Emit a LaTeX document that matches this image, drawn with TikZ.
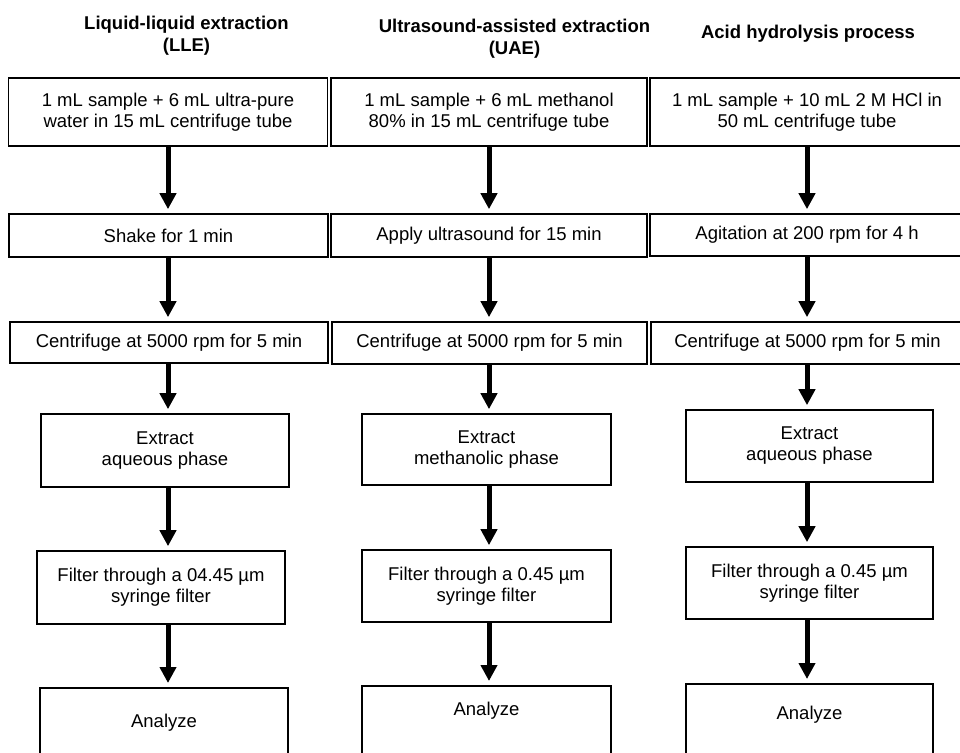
\documentclass[tikz,border=0pt]{standalone}
\usepackage{fontspec}
\setmainfont{Liberation Sans}
\usetikzlibrary{arrows.meta}

\begin{document}
\begin{tikzpicture}[x=1pt, y=-1pt,
    stepbox/.style={draw, line width=1.6pt, inner sep=0pt, align=center,
        font=\fontsize{18.5}{21}\selectfont},
    endbox/.style={stepbox, anchor=north, minimum width=248, text depth=60pt},
    coltitle/.style={align=center, font=\fontsize{18.5}{22}\selectfont\bfseries},
    flow/.style={line width=5pt, -{Triangle[width=16pt,length=16pt]}, shorten >=4pt}]
            \useasboundingbox (0, 0) rectangle (960, 752);
            \clip (0, 0) rectangle (960, 752);

            \node[coltitle] (lletitle) at (186.5, 36) {Liquid-liquid extraction\\(LLE)};
            \node[coltitle] (uaetitle) at (514.5, 39) {Ultrasound-assisted extraction\\(UAE)};
            \node[coltitle] (acidtitle) at (808, 34) {Acid hydrolysis process};

            \node[stepbox, minimum width=319, minimum height=68] (lle1) at (168, 112) {1 mL sample + 6 mL ultra-pure\\water in 15 mL centrifuge tube};
            \node[stepbox, minimum width=319, minimum height=43] (lle2) at (168.5, 235.5) {Shake for 1 min};
            \node[stepbox, minimum width=318, minimum height=41] (lle3) at (169, 342.5) {Centrifuge at 5000 rpm for 5 min};
            \node[stepbox, minimum width=248, minimum height=73] (lle4) at (165, 450.5) {Extract\\aqueous phase};
            \node[stepbox, minimum width=248, minimum height=73] (lle5) at (161, 587.5) {Filter through a 04.45 µm\\syringe filter};
            \node[endbox, text height=39.5pt] (lle6) at (164, 687) {Analyze};

            \node[stepbox, minimum width=316, minimum height=68] (uae1) at (489, 112) {1 mL sample + 6 mL methanol\\80\% in 15 mL centrifuge tube};
            \node[stepbox, minimum width=316, minimum height=43] (uae2) at (489, 235.5) {Apply ultrasound for 15 min};
            \node[stepbox, minimum width=315, minimum height=42] (uae3) at (489.5, 343) {Centrifuge at 5000 rpm for 5 min};
            \node[stepbox, minimum width=249, minimum height=71] (uae4) at (486.5, 449.5) {Extract\\methanolic phase};
            \node[stepbox, minimum width=249, minimum height=72] (uae5) at (486.5, 586) {Filter through a 0.45 µm\\syringe filter};
            \node[endbox, minimum width=249, text height=29.5pt] (uae6) at (486.5, 685) {Analyze};

            \node[stepbox, minimum width=314, minimum height=68] (acid1) at (807, 112) {1 mL sample + 10 mL 2 M HCl in\\50 mL centrifuge tube};
            \node[stepbox, minimum width=314, minimum height=42] (acid2) at (807, 235) {Agitation at 200 rpm for 4 h};
            \node[stepbox, minimum width=313, minimum height=42] (acid3) at (807.5, 343) {Centrifuge at 5000 rpm for 5 min};
            \node[stepbox, minimum width=247, minimum height=72] (acid4) at (809.5, 446) {Extract\\aqueous phase};
            \node[stepbox, minimum width=247, minimum height=72] (acid5) at (809.5, 583) {Filter through a 0.45 µm\\syringe filter};
            \node[endbox, minimum width=247, text height=35.5pt] (acid6) at (809.5, 683) {Analyze};

            \foreach \col in {lle, uae, acid} {
                \foreach \a/\b in {1/2, 2/3, 3/4, 4/5, 5/6} {
                    \draw[flow] (\col1.south |- \col\a.south) -- (\col1.south |- \col\b.north);
                }
            }
        \end{tikzpicture}
\end{document}
